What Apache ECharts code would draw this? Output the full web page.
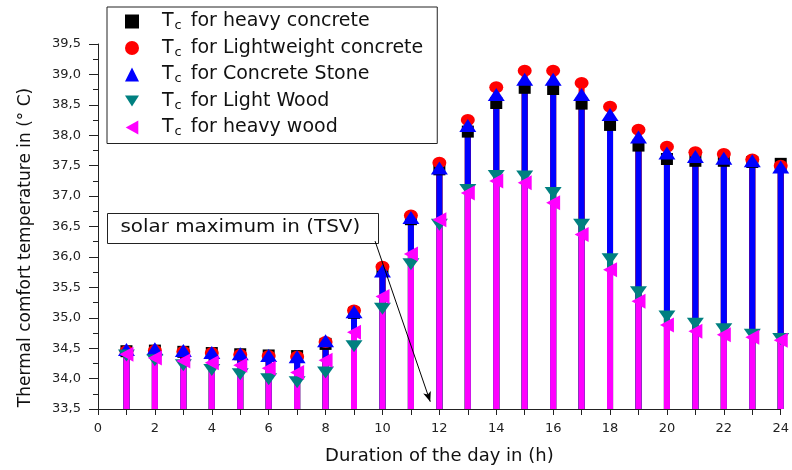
<!DOCTYPE html>
<html>
<head>
<meta charset="utf-8">
<script src="https://cdn.jsdelivr.net/npm/echarts@6/dist/echarts.min.js"></script>
<style>
  html, body { margin: 0; padding: 0; background: #fff; }
  #chart { width: 792px; height: 470px; }
</style>
</head>
<body>
<div id="chart"></div>
<script>
// hours of the day
const hours = [1, 2, 3, 4, 5, 6, 7, 8, 9, 10, 11, 12, 13, 14, 15, 16, 17, 18, 19, 20, 21, 22, 23, 24]

// Tc values
const heavyConcrete = [34.45, 34.46, 34.44, 34.42, 34.40, 34.38, 34.37, 34.57, 35.08, 35.78, 36.62, 37.44, 38.06, 38.53, 38.78, 38.76, 38.52, 38.17, 37.83, 37.61, 37.58, 37.58, 37.56, 37.53]
const lightweightConcrete = [34.45, 34.46, 34.44, 34.42, 34.39, 34.37, 34.36, 34.60, 35.12, 35.84, 36.68, 37.55, 38.25, 38.79, 39.06, 39.06, 38.86, 38.47, 38.09, 37.81, 37.72, 37.69, 37.60, 37.50]
const concreteStone = [34.48, 34.49, 34.46, 34.43, 34.41, 34.38, 34.36, 34.62, 35.10, 35.77, 36.65, 37.46, 38.16, 38.67, 38.92, 38.92, 38.67, 38.34, 37.97, 37.71, 37.65, 37.62, 37.58, 37.48]
const lightWood = [34.38, 34.30, 34.22, 34.14, 34.07, 33.99, 33.94, 34.10, 34.53, 35.15, 35.88, 36.53, 37.10, 37.33, 37.32, 37.05, 36.53, 35.96, 35.42, 35.02, 34.90, 34.81, 34.72, 34.65]
const heavyWood = [34.40, 34.34, 34.29, 34.26, 34.22, 34.17, 34.10, 34.30, 34.76, 35.35, 36.05, 36.61, 37.05, 37.25, 37.22, 36.89, 36.37, 35.79, 35.27, 34.88, 34.78, 34.72, 34.68, 34.63]

const seriesNames = ['heavy concrete', 'Lightweight concrete', 'Concrete Stone', 'Light Wood', 'heavy wood']
const seriesValues = [heavyConcrete, lightweightConcrete, concreteStone, lightWood, heavyWood]
const colors = ['#000000', '#ff0000', '#0000ff', '#008080', '#ff00ff']

const triDown = 'path://M0,0 L10,0 L5,8 Z'
const triLeft = 'path://M0,5 L9,0 L9,10 Z'
const symbols = ['rect', 'circle', 'triangle', triDown, triLeft]
const symbolSizes = [[12, 12], [14, 12], [17, 13], [17, 12], [14, 15]]

// annotation arrow, in data coordinates
const arrowStart = [9.74, 36.26]
const arrowEnd = [11.68, 33.62]

const font = 'DejaVu Sans'
const chart = echarts.init(document.getElementById('chart'))

const series = []
seriesNames.forEach((name, i) => {
  const pts = hours.map((h, k) => [h, seriesValues[i][k]])
  series.push({
    name,
    type: 'bar',
    data: pts,
    barWidth: 6,
    barGap: '-100%',
    clip: true,
    itemStyle: { color: colors[i] },
    silent: true
  })
  series.push({
    name,
    type: 'scatter',
    data: pts,
    symbol: symbols[i],
    symbolSize: symbolSizes[i],
    itemStyle: { color: colors[i], opacity: 1 },
    silent: true
  })
})

// arrow from the text box
series.push({
  type: 'scatter',
  data: [],
  silent: true,
  markLine: {
    silent: true,
    symbol: ['none', 'arrow'],
    symbolSize: [6, 10],
    label: { show: false },
    lineStyle: { color: '#000', width: 1, type: 'solid' },
    data: [[{ coord: arrowStart }, { coord: arrowEnd }]]
  }
})

const option = {
  animation: false,
  textStyle: { fontFamily: font },
  grid: { left: 98, right: 4, top: 44, bottom: 60 },
  legend: {
    orient: 'vertical',
    left: 107,
    top: 7,
    padding: [5, 14, 5, 18],
    borderColor: '#222',
    borderWidth: 1,
    backgroundColor: '#fff',
    itemWidth: 14,
    itemHeight: 14,
    itemGap: 6,
    data: seriesNames.map((n, i) => ({ name: n, icon: symbols[i] })),
    formatter: n => '{T|T}{s|c}{t| for ' + n + '}',
    textStyle: {
      color: '#111',
      rich: {
        T: { fontSize: 19, color: '#111', fontFamily: font, padding: [0, 0, 0, 18] },
        t: { fontSize: 19, color: '#111', fontFamily: font },
        s: { fontSize: 13, color: '#111', fontFamily: font, padding: [9, 3, 0, 1] }
      }
    }
  },
  xAxis: {
    type: 'value',
    min: 0,
    max: 24,
    interval: 2,
    name: 'Duration of the day in (h)',
    nameLocation: 'middle',
    nameGap: 38,
    nameTextStyle: { fontSize: 18, color: '#111', fontFamily: font },
    axisLine: { lineStyle: { color: '#222', width: 1 } },
    axisTick: { length: 6, lineStyle: { color: '#222' } },
    minorTick: { show: true, splitNumber: 2, length: 6, lineStyle: { color: '#222' } },
    axisLabel: { color: '#222', fontSize: 13, margin: 13 },
    splitLine: { show: false }
  },
  yAxis: {
    type: 'value',
    min: 33.5,
    max: 39.5,
    interval: 0.5,
    name: 'Thermal comfort temperature in (° C)',
    nameLocation: 'middle',
    nameGap: 64,
    nameRotate: 90,
    nameTextStyle: { fontSize: 17, color: '#111', fontFamily: font, padding: [0, 42, 0, 0] },
    axisLine: { show: true, lineStyle: { color: '#222', width: 1 } },
    axisTick: { show: true, length: 9, lineStyle: { color: '#222' } },
    minorTick: { show: true, splitNumber: 2, length: 5, lineStyle: { color: '#222' } },
    axisLabel: {
      color: '#222',
      fontSize: 13,
      margin: 17,
      formatter: v => v.toFixed(1).replace('.', ',')
    },
    splitLine: { show: false }
  },
  graphic: [
    {
      type: 'group',
      left: 107,
      top: 213,
      z: 100,
      children: [
        {
          type: 'rect',
          shape: { x: 0, y: 0, width: 271, height: 30 },
          style: { fill: '#fff', stroke: '#222', lineWidth: 1 }
        },
        {
          type: 'text',
          x: 13,
          y: 6,
          scaleX: 1.17,
          style: {
            text: 'solar maximum in (TSV)',
            fontSize: 17,
            fontFamily: font,
            fill: '#111'
          }
        }
      ]
    }
  ],
  series
}

chart.setOption(option)
</script>
</body>
</html>
